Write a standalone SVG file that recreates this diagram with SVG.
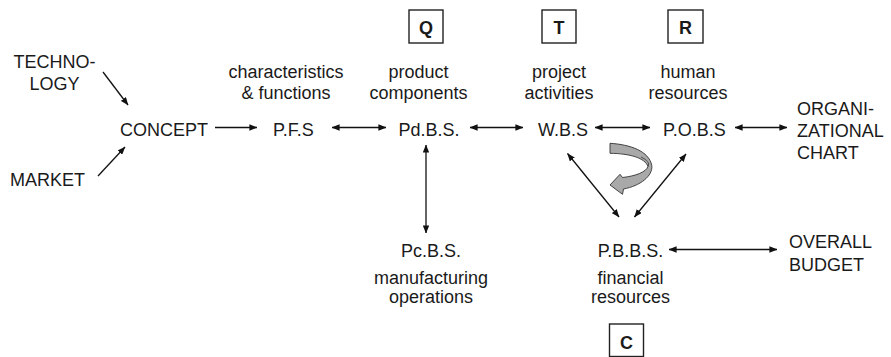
<svg xmlns="http://www.w3.org/2000/svg" width="891" height="357" viewBox="0 0 891 357">
  <style>
    text { font-family: "Liberation Sans", Arial, sans-serif; font-size: 18px; fill: #1a1a1a; }
    .c { text-anchor: middle; }
    .key { font-weight: bold; text-anchor: middle; }
    .box { fill: #fff; stroke: #222; stroke-width: 1.4; }
    .ln { fill: none; stroke: #111; stroke-width: 1.3; }
    .turn { fill: #a9a9a9; stroke: #333; stroke-width: 0.9; stroke-linejoin: round; }
  </style>
  <defs>
    <marker id="head" viewBox="0 0 10 8" refX="9.5" refY="4" markerWidth="8" markerHeight="6.4" markerUnits="userSpaceOnUse" orient="auto-start-reverse">
      <path d="M0,0 L10,4 L0,8 Z" fill="#111"/>
    </marker>
  </defs>

  <rect width="891" height="357" fill="#fff"/>

  <!-- inputs -->
  <g id="technology">
    <text class="c" x="54.5" y="68">TECHNO-</text>
    <text class="c" x="54.5" y="90">LOGY</text>
  </g>
  <g id="market">
    <text x="10" y="186">MARKET</text>
  </g>
  <g id="concept">
    <text x="120" y="136">CONCEPT</text>
  </g>

  <!-- breakdown structures -->
  <g id="pfs">
    <text class="c" x="286" y="78">characteristics</text>
    <text class="c" x="286" y="98.5">&amp; functions</text>
    <text x="273" y="136">P.F.S</text>
  </g>
  <g id="pdbs">
    <rect class="box" x="409" y="10" width="34" height="33"/>
    <text class="key" x="426" y="34">Q</text>
    <text class="c" x="418.5" y="78">product</text>
    <text class="c" x="418.5" y="98.5">components</text>
    <text x="398.5" y="136">Pd.B.S.</text>
  </g>
  <g id="wbs">
    <rect class="box" x="542" y="10" width="34" height="33"/>
    <text class="key" x="559" y="34">T</text>
    <text class="c" x="559" y="78">project</text>
    <text class="c" x="559" y="98.5">activities</text>
    <text x="538" y="136">W.B.S</text>
  </g>
  <g id="pobs">
    <rect class="box" x="668" y="10" width="35" height="33"/>
    <text class="key" x="685.5" y="34">R</text>
    <text class="c" x="688" y="78">human</text>
    <text class="c" x="688" y="98.5">resources</text>
    <text x="663" y="136">P.O.B.S</text>
  </g>
  <g id="org-chart">
    <text x="797" y="115">ORGANI-</text>
    <text x="797" y="137">ZATIONAL</text>
    <text x="797" y="159">CHART</text>
  </g>
  <g id="pcbs">
    <text class="c" x="431" y="257">Pc.B.S.</text>
    <text class="c" x="431" y="284">manufacturing</text>
    <text class="c" x="431" y="303">operations</text>
  </g>
  <g id="pbbs">
    <text class="c" x="630.5" y="257">P.B.B.S.</text>
    <text class="c" x="630.5" y="284">financial</text>
    <text class="c" x="630.5" y="303">resources</text>
    <rect class="box" x="609.5" y="324" width="34" height="32.5"/>
    <text class="key" x="626.5" y="349">C</text>
  </g>
  <g id="overall-budget">
    <text x="789" y="248">OVERALL</text>
    <text x="789" y="270.5">BUDGET</text>
  </g>

  <!-- connectors -->
  <g id="connectors">
    <line class="ln" x1="103" y1="72" x2="128" y2="105" marker-end="url(#head)"/>
    <line class="ln" x1="98" y1="176" x2="125" y2="147" marker-end="url(#head)"/>
    <line class="ln" x1="215" y1="127.5" x2="257" y2="127.5" marker-end="url(#head)"/>
    <line class="ln" x1="332" y1="127.5" x2="386" y2="127.5" marker-start="url(#head)" marker-end="url(#head)"/>
    <line class="ln" x1="470" y1="127.5" x2="523" y2="127.5" marker-start="url(#head)" marker-end="url(#head)"/>
    <line class="ln" x1="595" y1="127.5" x2="650" y2="127.5" marker-start="url(#head)" marker-end="url(#head)"/>
    <line class="ln" x1="735" y1="127.5" x2="787" y2="127.5" marker-start="url(#head)" marker-end="url(#head)"/>
    <line class="ln" x1="426" y1="145" x2="426" y2="233" marker-start="url(#head)" marker-end="url(#head)"/>
    <line class="ln" x1="567.5" y1="153.5" x2="619" y2="217" marker-start="url(#head)" marker-end="url(#head)"/>
    <line class="ln" x1="686" y1="154" x2="634.5" y2="217" marker-start="url(#head)" marker-end="url(#head)"/>
    <line class="ln" x1="669" y1="249.5" x2="777" y2="249.5" marker-start="url(#head)" marker-end="url(#head)"/>
    <!-- turning ribbon arrow between W.B.S and P.O.B.S -->
    <path class="turn" d="M610,143.3 C630,144.5 649,151 651.8,165.5 C653,176 640,186 623.5,189 L622.5,194.3 L610,185 L620,174.3 L622.5,177.5 C636,176 646,172 648,166.5 C645,158 630,153.5 610,153.3 Z"/>
    <path d="M641,157 C647,160 650,163 648,166.5" fill="none" stroke="#333" stroke-width="0.8"/>
  </g>
</svg>
